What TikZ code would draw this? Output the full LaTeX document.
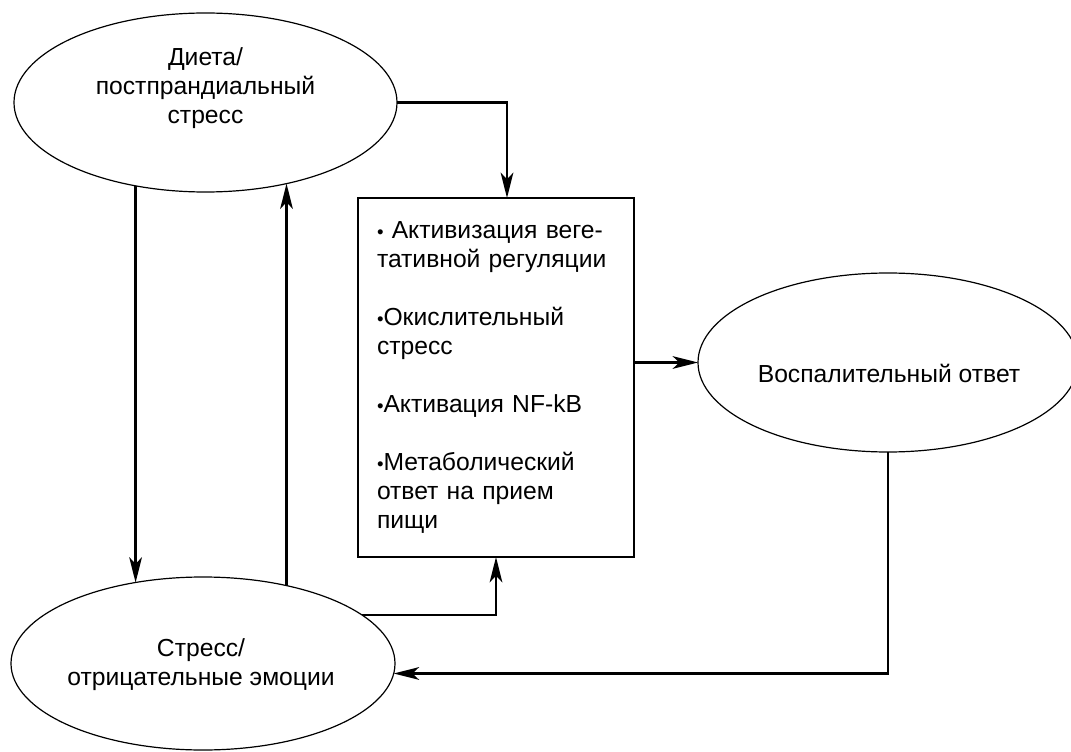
\documentclass[tikz,border=0pt]{standalone}
\usepackage{fontspec}
\setmainfont{Liberation Sans}
\usetikzlibrary{shapes.geometric,arrows.meta}

\tikzset{every picture/.style={line width=0.75pt}}
\tikzset{
  blob/.style={draw, ellipse, inner sep=0pt, outer sep=0pt, line width=0.9pt},
  panel/.style={draw, rectangle, inner sep=0pt, outer sep=0pt, line width=0.9pt,
    minimum width=207pt, minimum height=269.25pt, text width=178.5pt, align=left,
    font=\fontsize{18.5}{21.75}\selectfont},
  lbl/.style={inner sep=0pt, align=center, font=\fontsize{18.5}{21.75}\selectfont},
  link/.style={line width=2pt, -{Stealth[length=19pt,width=9.5pt,inset=5pt]}}
}
\newcommand\dotmark{{\fontsize{14}{14}\selectfont •}}

\begin{document}
\begin{tikzpicture}[x=0.75pt,y=0.75pt,yscale=-1,xscale=1]
\useasboundingbox (0,0) rectangle (1071,752);

%Ellipses
\node[blob, minimum width=287.25pt, minimum height=134.25pt] (diet) at (205.5,102.5) {};
\node[blob, minimum width=288pt, minimum height=129.75pt] (stress) at (203,663.5) {};
\node[blob, minimum width=285pt, minimum height=134.25pt] (resp) at (888,362.5) {};

%Texts of the ellipses
\node[lbl] (diettxt) at (205.5,88) {Диета/\\постпрандиальный\\стресс};
\node[lbl] (stresstxt) at (201,665) {Стресс/\\отрицательные эмоции};
\node[lbl, anchor=base] (resptxt) at (889,382) {Воспалительный ответ};

%Middle box
\node[panel] (box) at (496,377.5) {\dotmark\ Активизация веге-\\
тативной регуляции\\[21.75pt]
\dotmark Окислительный\\
стресс\\[21.75pt]
\dotmark Активация NF-kB\\[21.75pt]
\dotmark Метаболический\\
ответ на прием\\
пищи};

%Connectors
\draw[link] (diet.east) -| ([xshift=8.25pt]box.north);
\draw[link] (diet.230) -- (diet.230 |- stress.130);
\draw[link] (stress.43) -- (stress.43 |- diet.315);
\draw[link] (stress.17) -| (box.south);
\draw[link] (box.east |- resp.west) -- (resp.west);
\draw[link] (resp.south) |- (stress.357);

\end{tikzpicture}
\end{document}
